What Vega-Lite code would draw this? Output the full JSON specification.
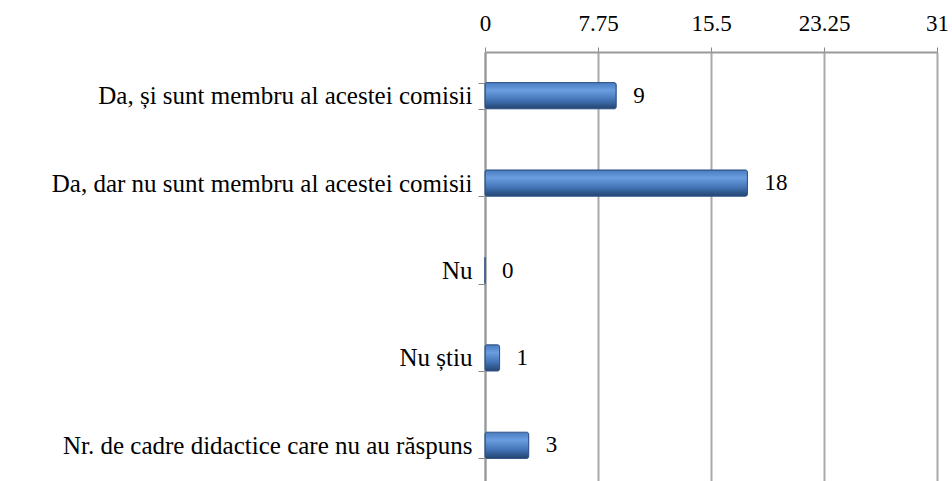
{
  "$schema": "https://vega.github.io/schema/vega-lite/v6.json",
  "autosize": {"type": "none"},
  "width": 452,
  "height": 437,
  "padding": {"left": 485, "top": 52, "right": 15, "bottom": 0},
  "background": "white",
  "config": {"view": {"stroke": null}, "font": "Liberation Serif"},
  "data": {"values": [
    {"cat": "Da, și sunt membru al acestei comisii", "v": 9},
    {"cat": "Da, dar nu sunt membru al acestei comisii", "v": 18},
    {"cat": "Nu", "v": 0},
    {"cat": "Nu știu", "v": 1},
    {"cat": "Nr. de cadre didactice care nu au răspuns", "v": 3}
  ]},
  "encoding": {
    "y": {"field": "cat", "type": "nominal", "sort": null,
      "scale": {"paddingInner": 0.7, "paddingOuter": 0.35},
      "axis": {"title": null, "labelFont": "Liberation Serif, serif", "labelFontSize": 25, "labelColor": "black",
        "labelPadding": 6, "tickBand": "extent", "tickSize": 7, "tickColor": "#888", "domainColor": "#999", "domainWidth": 2, "labelLimit": 600}},
    "x": {"field": "v", "type": "quantitative",
      "scale": {"domain": [0, 31], "nice": false},
      "axis": {"orient": "top", "title": null, "values": [0, 7.75, 15.5, 23.25, 31], "labelExpr": "'' + datum.value",
        "labelFont": "Liberation Serif, serif", "labelFontSize": 23, "labelColor": "black", "labelPadding": 12,
        "tickSize": 5, "tickColor": "#888", "domainColor": "#999", "domainWidth": 2,
        "grid": true, "gridColor": "#aaa", "gridWidth": 2, "labelFlush": false}}
  },
  "layer": [
    {"mark": {"type": "bar", "cornerRadius": 2, "stroke": "#2d5288", "strokeWidth": 1,
      "color": {"gradient": "linear", "x1": 0, "y1": 0, "x2": 0, "y2": 1,
        "stops": [{"offset": 0, "color": "#4a7cc0"}, {"offset": 0.3, "color": "#6a9ee0"}, {"offset": 0.7, "color": "#3f6fb0"}, {"offset": 1, "color": "#24436e"}]}}},
    {"mark": {"type": "text", "align": "left", "dx": 17, "font": "Liberation Serif, serif", "fontSize": 23, "color": "black"},
      "encoding": {"text": {"field": "v", "type": "quantitative"}}}
  ]
}
